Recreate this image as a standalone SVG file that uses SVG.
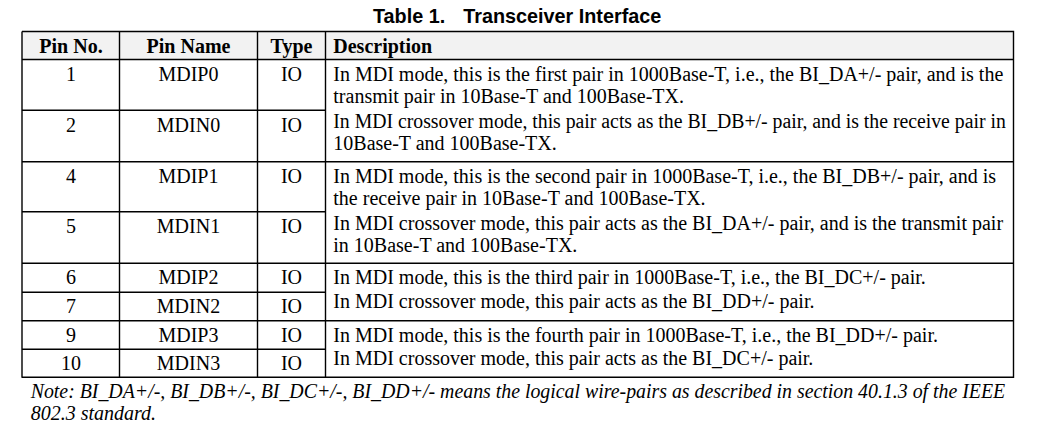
<svg xmlns="http://www.w3.org/2000/svg" width="1048" height="437" viewBox="0 0 1048 437">
<style>
.t{font-family:"Liberation Serif","Times New Roman",serif;font-size:20px;fill:#000}
.h{font-family:"Liberation Serif","Times New Roman",serif;font-size:20px;font-weight:bold;fill:#000}
.c{text-anchor:middle}
.n{font-family:"Liberation Serif","Times New Roman",serif;font-size:20px;font-style:italic;fill:#000}
.ttl{font-family:"Liberation Sans",Arial,sans-serif;font-size:19.8px;font-weight:bold;fill:#000}
.ln{stroke:#000;stroke-width:1.4;fill:none}
</style>
<rect x="0" y="0" width="1048" height="437" fill="#fff"/>
<g id="title"><text class="ttl" x="373" y="23">Table 1.</text><text class="ttl" x="463.3" y="23">Transceiver Interface</text></g>
<g id="grid">
<rect x="22" y="31.5" width="991.5" height="28" fill="#f2f2f2"/>
<path class="ln" d="M22 31.5H1013.5V377.3H21.5M22 31.5V377.3M119.5 31.5V377.3M257.5 31.5V377.3M325.5 31.5V377.3
M21.5 59.5H1013.5M21.5 110.3H325.5M21.5 161.7H1013.5M21.5 211.7H325.5M21.5 263.3H1013.5M21.5 292.3H325.5M21.5 320.7H1013.5M21.5 349.3H325.5"/>
</g>
<g id="header">
<text class="h c" x="71" y="53.3">Pin No.</text>
<text class="h c" x="188.5" y="53.3">Pin Name</text>
<text class="h c" x="291.5" y="53.3">Type</text>
<text class="h" x="333.3" y="53.3">Description</text>
</g>
<g id="pin1"><text class="t c" x="71" y="81">1</text><text class="t c" x="188.5" y="81">MDIP0</text><text class="t c" x="291.5" y="81">IO</text></g>
<g id="pin2"><text class="t c" x="71" y="131.8">2</text><text class="t c" x="188.5" y="131.8">MDIN0</text><text class="t c" x="291.5" y="131.8">IO</text></g>
<g id="desc1">
<text class="t" x="333.3" y="81">In MDI mode, this is the first pair in 1000Base-T, i.e., the BI_DA+/- pair, and is the</text>
<text class="t" x="333.3" y="103.3">transmit pair in 10Base-T and 100Base-TX.</text>
<text class="t" x="333.3" y="127.7" textLength="672.5" lengthAdjust="spacingAndGlyphs">In MDI crossover mode, this pair acts as the BI_DB+/- pair, and is the receive pair in</text>
<text class="t" x="333.3" y="150">10Base-T and 100Base-TX.</text>
</g>
<g id="pin4"><text class="t c" x="71" y="182.7">4</text><text class="t c" x="188.5" y="182.7">MDIP1</text><text class="t c" x="291.5" y="182.7">IO</text></g>
<g id="pin5"><text class="t c" x="71" y="233.3">5</text><text class="t c" x="188.5" y="233.3">MDIN1</text><text class="t c" x="291.5" y="233.3">IO</text></g>
<g id="desc2">
<text class="t" x="333.3" y="183.3">In MDI mode, this is the second pair in 1000Base-T, i.e., the BI_DB+/- pair, and is</text>
<text class="t" x="333.3" y="205">the receive pair in 10Base-T and 100Base-TX.</text>
<text class="t" x="333.3" y="230">In MDI crossover mode, this pair acts as the BI_DA+/- pair, and is the transmit pair</text>
<text class="t" x="333.3" y="251.7">in 10Base-T and 100Base-TX.</text>
</g>
<g id="pin6"><text class="t c" x="71" y="284.3">6</text><text class="t c" x="188.5" y="284.3">MDIP2</text><text class="t c" x="291.5" y="284.3">IO</text></g>
<g id="pin7"><text class="t c" x="71" y="313.3">7</text><text class="t c" x="188.5" y="313.3">MDIN2</text><text class="t c" x="291.5" y="313.3">IO</text></g>
<g id="desc3">
<text class="t" x="333.3" y="284">In MDI mode, this is the third pair in 1000Base-T, i.e., the BI_DC+/- pair.</text>
<text class="t" x="333.3" y="308.3">In MDI crossover mode, this pair acts as the BI_DD+/- pair.</text>
</g>
<g id="pin9"><text class="t c" x="71" y="341.7">9</text><text class="t c" x="188.5" y="341.7">MDIP3</text><text class="t c" x="291.5" y="341.7">IO</text></g>
<g id="pin10"><text class="t c" x="71" y="370">10</text><text class="t c" x="188.5" y="370">MDIN3</text><text class="t c" x="291.5" y="370">IO</text></g>
<g id="desc4">
<text class="t" x="333.3" y="341.7">In MDI mode, this is the fourth pair in 1000Base-T, i.e., the BI_DD+/- pair.</text>
<text class="t" x="333.3" y="365">In MDI crossover mode, this pair acts as the BI_DC+/- pair.</text>
</g>
<g id="note">
<text class="n" x="30.7" y="398.3" textLength="974.5" lengthAdjust="spacingAndGlyphs">Note: BI_DA+/-, BI_DB+/-, BI_DC+/-, BI_DD+/- means the logical wire-pairs as described in section 40.1.3 of the IEEE</text>
<text class="n" x="30.7" y="420">802.3 standard.</text>
</g>
</svg>
